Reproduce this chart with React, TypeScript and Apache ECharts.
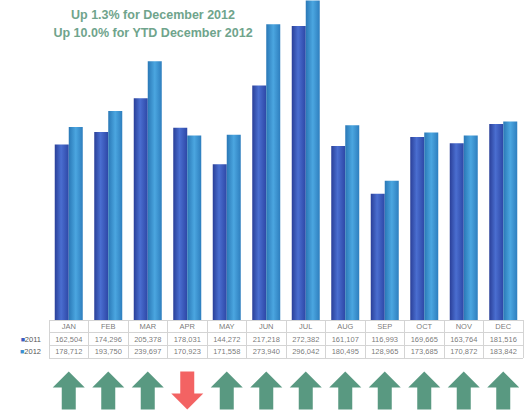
import React, { useEffect, useRef } from "react";
import * as echarts from "echarts";

const months = ["JAN", "FEB", "MAR", "APR", "MAY", "JUN", "JUL", "AUG", "SEP", "OCT", "NOV", "DEC"];
const values2011 = [162504, 174296, 205378, 178031, 144272, 217218, 272382, 161107, 116993, 169665, 163764, 181516];
const values2012 = [178712, 193750, 239697, 170923, 171558, 273940, 296042, 180495, 128965, 173685, 170872, 183842];
const rowLabels = ["", "2011", "2012"];
const titleLines = ["Up 1.3% for December 2012", "Up 10.0% for YTD December 2012"];

const color2011 = new echarts.graphic.LinearGradient(0, 0, 1, 0, [
  { offset: 0, color: "#2a3f98" },
  { offset: 0.45, color: "#4a6ed0" },
  { offset: 1, color: "#2d47a6" },
]);
const color2012 = new echarts.graphic.LinearGradient(0, 0, 1, 0, [
  { offset: 0, color: "#2a78b6" },
  { offset: 0.5, color: "#4ba6e0" },
  { offset: 1, color: "#2e7ebe" },
]);

const fmt = (v: number) => v.toLocaleString("en-US");
const ARROW = "path://M16,0 L32,16 L23,16 L23,38 L9,38 L9,16 L0,16 Z";

export default function App() {
  const ref = useRef<HTMLDivElement>(null);
  useEffect(() => {
    if (!ref.current) return;
    const chart = echarts.init(ref.current, undefined, { renderer: "svg" });
    const cellText = {
      show: true,
      position: "inside" as const,
      fontSize: 7.5,
      color: "#555",
      fontFamily: "Liberation Sans, Arial, sans-serif",
    };
    chart.setOption({
      animation: false,
      backgroundColor: "#ffffff",
      title: {
        text: titleLines.join("\n"),
        left: 153,
        top: 6,
        padding: 0,
        textAlign: "center",
        textStyle: {
          fontSize: 12.5,
          fontWeight: "bold",
          color: "#6fa48c",
          lineHeight: 18,
          fontFamily: "Liberation Sans, Arial, sans-serif",
        },
      },
      grid: [
        { left: 49, right: 7, top: 0, bottom: 90 },
        { left: 49, right: 7, top: 320, height: 38 },
        { left: 49, right: 7, top: 371, bottom: 0 },
      ],
      xAxis: [
        {
          type: "category",
          data: months,
          gridIndex: 0,
          axisLine: { show: false },
          axisTick: { show: false },
          axisLabel: { show: false },
        },
        {
          type: "category",
          data: months,
          gridIndex: 1,
          axisLine: { show: false },
          axisTick: { show: false },
          axisLabel: { show: false },
          splitLine: { show: true, lineStyle: { color: "#d4d4d4", width: 1 } },
        },
        {
          type: "category",
          data: months,
          gridIndex: 2,
          show: false,
        },
      ],
      yAxis: [
        { type: "value", gridIndex: 0, min: 0, max: 296500, show: false },
        {
          type: "category",
          data: rowLabels,
          gridIndex: 1,
          inverse: true,
          axisLine: { show: false },
          axisTick: { show: false },
          splitLine: { show: true, lineStyle: { color: "#d4d4d4", width: 1 } },
          axisLabel: {
            margin: 8,
            fontSize: 7.5,
            color: "#555",
            fontFamily: "Liberation Sans, Arial, sans-serif",
            formatter: (v: string) =>
              v === "2011" ? "{a|■}" + v : v === "2012" ? "{b|■}" + v : "",
            rich: {
              a: { color: "#3a5cc0", fontSize: 7 },
              b: { color: "#3a90d0", fontSize: 7 },
            },
          },
        },
        { type: "value", gridIndex: 2, min: 0, max: 1, show: false },
      ],
      series: [
        {
          name: "2011",
          type: "bar",
          xAxisIndex: 0,
          yAxisIndex: 0,
          data: values2011,
          barWidth: 14,
          barGap: "0%",
          itemStyle: { color: color2011 },
        },
        {
          name: "2012",
          type: "bar",
          xAxisIndex: 0,
          yAxisIndex: 0,
          data: values2012,
          barWidth: 14,
          barGap: "0%",
          itemStyle: { color: color2012 },
        },
        {
          type: "scatter",
          xAxisIndex: 1,
          yAxisIndex: 1,
          symbolSize: 1,
          itemStyle: { color: "rgba(0,0,0,0)" },
          data: months.map((m, i) => ({ value: [i, 0], name: m })),
          label: { ...cellText, formatter: (p: any) => p.name },
        },
        {
          type: "scatter",
          xAxisIndex: 1,
          yAxisIndex: 1,
          symbolSize: 1,
          itemStyle: { color: "rgba(0,0,0,0)" },
          data: values2011.map((v, i) => ({ value: [i, 1], name: fmt(v) })),
          label: { ...cellText, formatter: (p: any) => p.name },
        },
        {
          type: "scatter",
          xAxisIndex: 1,
          yAxisIndex: 1,
          symbolSize: 1,
          itemStyle: { color: "rgba(0,0,0,0)" },
          data: values2012.map((v, i) => ({ value: [i, 2], name: fmt(v) })),
          label: { ...cellText, formatter: (p: any) => p.name },
        },
        {
          type: "scatter",
          xAxisIndex: 2,
          yAxisIndex: 2,
          symbol: ARROW,
          symbolSize: [32, 38],
          data: values2012.map((v, i) => {
            const up = v >= values2011[i];
            return {
              value: [i, 0.5],
              symbolRotate: up ? 0 : 180,
              itemStyle: { color: up ? "#2f7f62" : "#f03c3c" },
            };
          }),
        },
      ],
    });
    return () => chart.dispose();
  }, []);
  return <div ref={ref} style={{ width: 530, height: 410, position: "absolute", left: 0, top: 0 }} />;
}
